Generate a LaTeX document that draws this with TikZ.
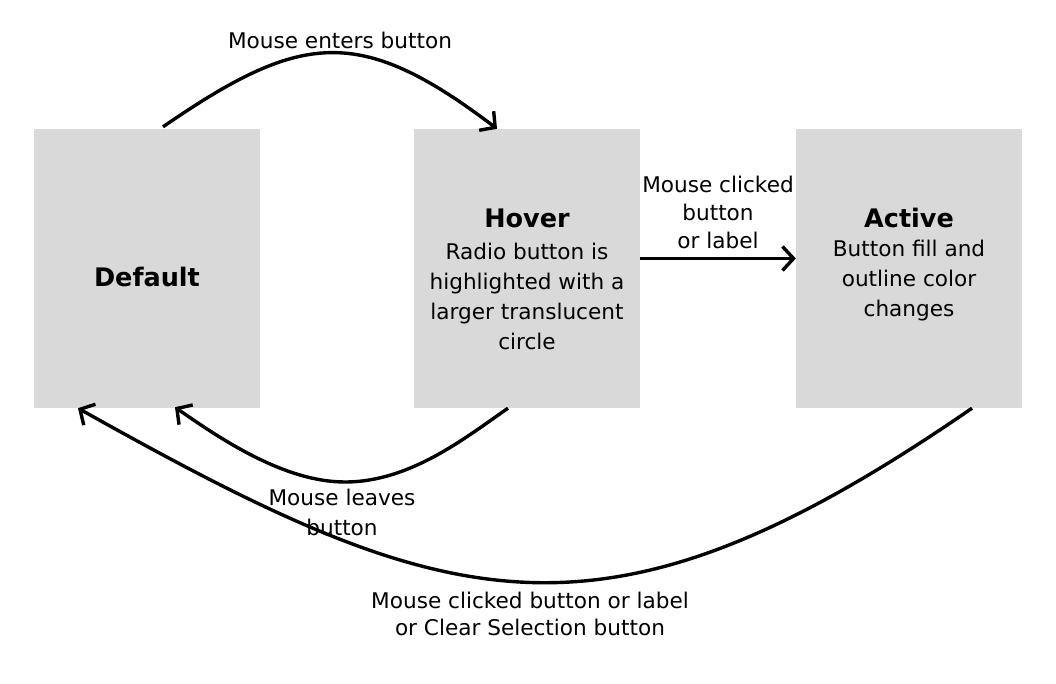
\documentclass[tikz,border=0pt]{standalone}
\usepackage{fontspec}
\setmainfont{DejaVu Sans}
\usetikzlibrary{arrows.meta}
\definecolor{boxgray}{HTML}{D9D9D9}
\begin{document}
\begin{tikzpicture}[x=1pt,y=-1pt,
  state/.style={fill=boxgray, draw=none, minimum width=226pt, minimum height=279pt, inner sep=0pt},
  ttl/.style={font=\fontsize{25.5}{30}\selectfont\bfseries, inner sep=0pt},
  txt/.style={font=\fontsize{21.6}{30}\selectfont, align=center, inner sep=0pt},
  conn/.style={line width=3.4pt, -{Straight Barb[length=11pt,width=24pt,line width=3.4pt]}}]
\fill[white] (0,0) rectangle (1056,684);
\useasboundingbox (0,0) rectangle (1056,684);
% states
\node[state] (def) at (147,268.5) {};
\node[ttl] (defT) at (147,277) {Default};
\node[state] (hov) at (527,268.5) {};
\node[ttl] (hovT) at (527,218) {Hover};
\node[txt] (hovB) at (527,296) {Radio button is\\highlighted with a\\larger translucent\\circle};
\node[state] (act) at (909,268.5) {};
\node[ttl] (actT) at (909,218) {Active};
\node[txt] (actB) at (909,281) {Button fill and\\outline color\\changes};
% labels
\node[txt] (l1) at (340,40) {Mouse enters button};
\node[txt, font=\fontsize{21.6}{28}\selectfont] (l2) at (718,212) {Mouse clicked\\button\\or label};
\node[txt] (l3) at (342,512) {Mouse leaves\\button};
\node[txt, font=\fontsize{21.6}{27.5}\selectfont] (l4) at (530,614) {Mouse clicked button or label\\or Clear Selection button};
% connectors
\coordinate (lvbot) at (345,482);
\draw[conn] ([xshift=16pt,yshift=2pt]def.north) .. controls (301,32) and (359,24) .. ([xshift=-30pt]hov.north);
\draw[conn] ([yshift=10pt]hov.east) -- ([yshift=10pt]act.west);
\draw[conn] ([xshift=-19pt]hov.south) .. controls (465,438) and (410,482) .. (lvbot)
  .. controls (285,482) and (222,440) .. ([xshift=28pt,yshift=1pt]def.south);
\draw[conn] ([xshift=63pt]act.south) .. controls (601,664) and (449,616) .. ([xshift=-69pt]def.south);
\end{tikzpicture}
\end{document}
